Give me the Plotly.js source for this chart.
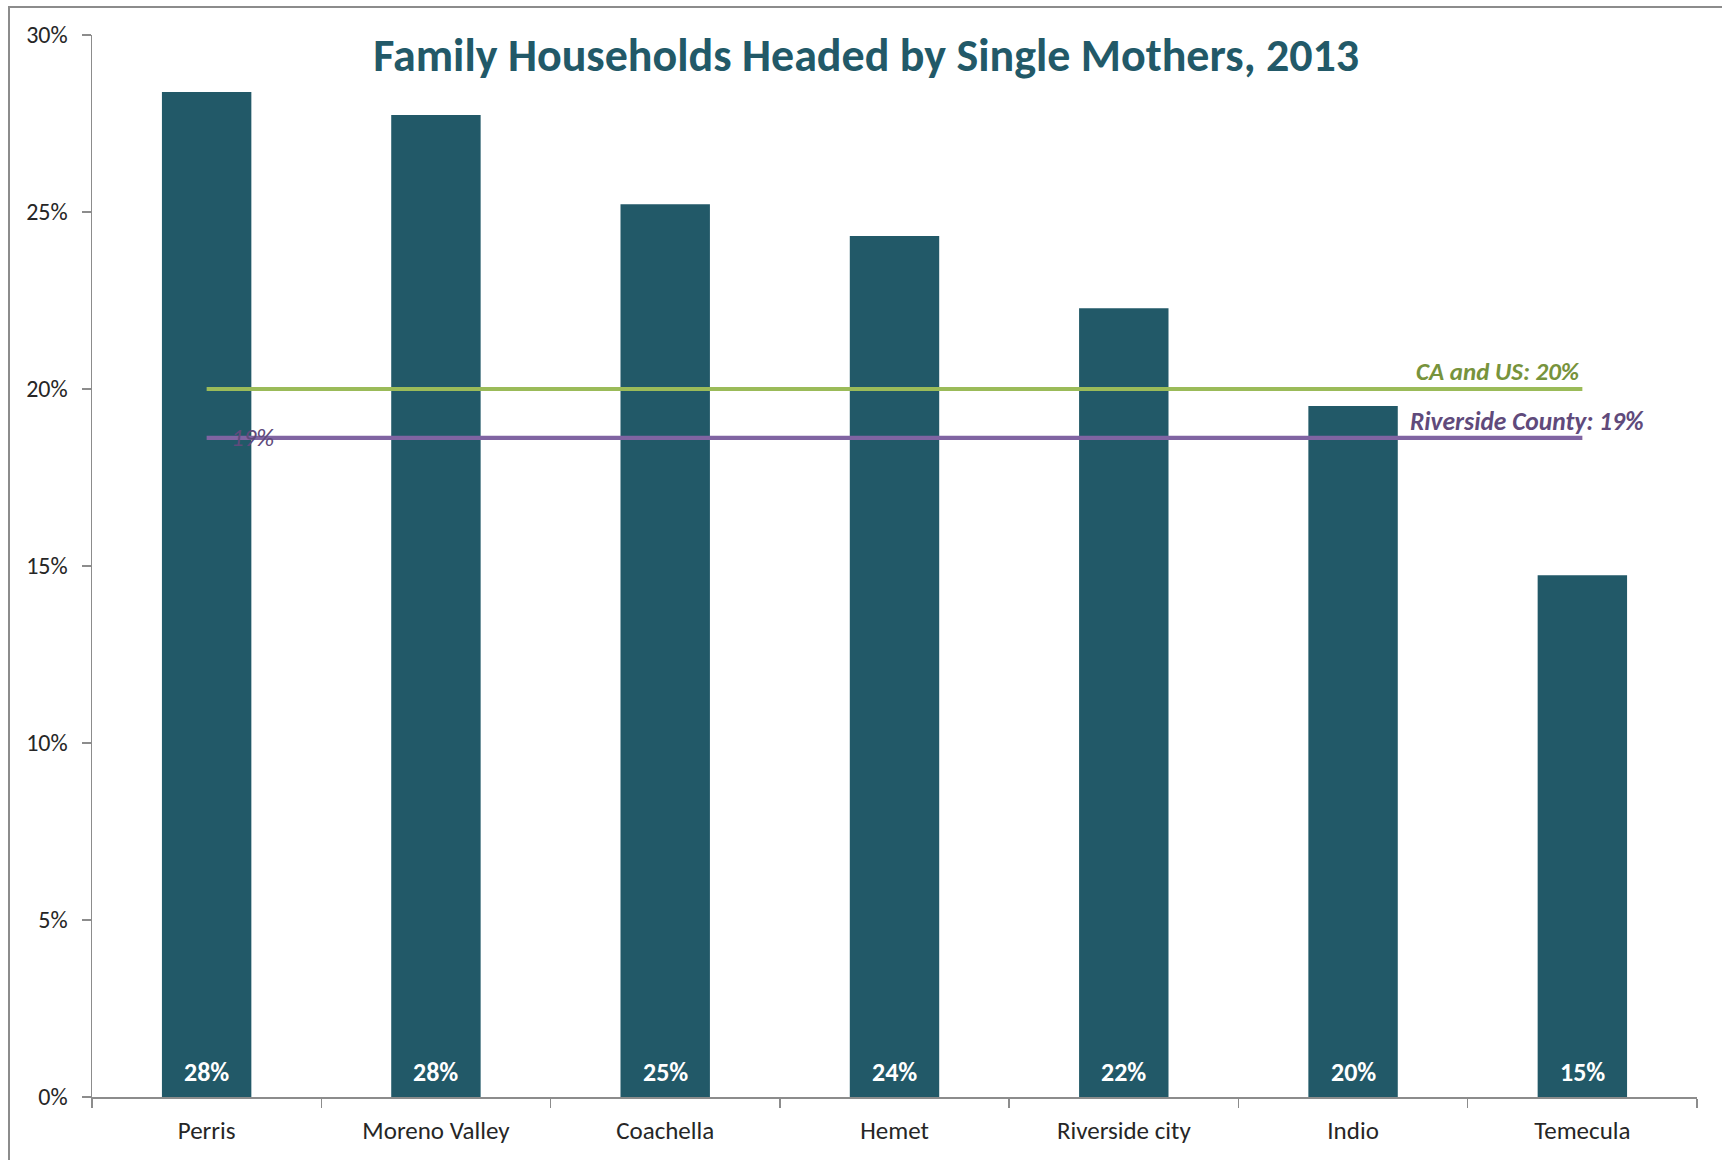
<!DOCTYPE html>
<html>
<head>
<meta charset="utf-8">
<script src="https://cdn.plot.ly/plotly-3.0.1.min.js"></script>
<style>
  html, body { margin: 0; padding: 0; background: #fff; }
  #wrap { position: relative; width: 1722px; height: 1160px; overflow: hidden; }
  #chart { position: absolute; left: 0; top: 0; width: 1722px; height: 1160px; }
  #frame { position: absolute; left: 8px; top: 6px; width: 1730px; height: 1200px; border: 2px solid #8c8c8c; box-sizing: border-box; pointer-events: none; }
</style>
</head>
<body>
<div id="wrap"><div id="chart"></div><div id="frame"></div></div>
<script>
const categories = ["Perris", "Moreno Valley", "Coachella", "Hemet", "Riverside city", "Indio", "Temecula"];
const shares = [28.39, 27.74, 25.22, 24.32, 22.28, 19.52, 14.74];
const caUsValue = 20.0;
const riversideCountyValue = 18.62;
const yTickValues = [0, 5, 10, 15, 20, 25, 30];
const yTickLabels = ["0%", "5%", "10%", "15%", "20%", "25%", "30%"];
const titleText = "Family Households Headed by Single Mothers, 2013";

const FONT = "Carlito, Lato, 'Open Sans', sans-serif";
const BAR = "#225968";
const GREEN = "#9bbb59", GREEN_TXT = "#77933c";
const PURPLE = "#8064a2", PURPLE_TXT = "#604a7b";

const traces = [
  {
    type: "bar",
    x: categories,
    y: shares,
    marker: { color: BAR },
    hoverinfo: "skip"
  },
  {
    type: "scatter",
    mode: "lines",
    x: categories,
    y: categories.map(() => caUsValue),
    line: { color: GREEN, width: 4.2 },
    hoverinfo: "skip"
  },
  {
    type: "scatter",
    mode: "lines",
    x: categories,
    y: categories.map(() => riversideCountyValue),
    line: { color: PURPLE, width: 4.2 },
    hoverinfo: "skip"
  }
];

const last = categories[categories.length - 1];

const barLabels = categories.map((c, i) => ({
  x: c, y: 0, xref: "x", yref: "y",
  text: "<b>" + Math.round(shares[i]) + "%</b>",
  showarrow: false, xanchor: "center", yanchor: "bottom", yshift: 7,
  font: { family: FONT, size: 26, color: "#ffffff" }
}));

const layout = {
  width: 1722,
  height: 1160,
  paper_bgcolor: "#ffffff",
  plot_bgcolor: "#ffffff",
  showlegend: false,
  bargap: 0.61,
  margin: { l: 92, r: 25, t: 35, b: 63 },
  font: { family: FONT, color: "#404040" },
  title: {
    text: "<b>" + titleText + "</b>",
    font: { family: FONT, size: 46, color: BAR },
    x: 0.503, xanchor: "center",
    y: 1 - 55 / 1160, yanchor: "middle",
    xref: "container"
  },
  xaxis: {
    type: "category",
    showline: true,
    linecolor: "#8c8c8c",
    linewidth: 1.5,
    ticks: "outside",
    tickson: "boundaries",
    ticklen: 9,
    tickcolor: "#8c8c8c",
    tickwidth: 1.5,
    showgrid: false,
    zeroline: false,
    tickfont: { family: FONT, size: 25, color: "#262626" },
    ticklabelstandoff: 10,
    range: [-0.5, categories.length - 0.5]
  },
  yaxis: {
    range: [0, 30],
    tickvals: yTickValues,
    ticktext: yTickLabels,
    showline: true,
    linecolor: "#8c8c8c",
    linewidth: 1.5,
    ticks: "outside",
    ticklen: 9,
    tickcolor: "#8c8c8c",
    tickwidth: 1.5,
    showgrid: false,
    zeroline: false,
    tickfont: { family: FONT, size: 24, color: "#262626" },
    ticklabelstandoff: 9
  },
  annotations: barLabels.concat([
    {
      x: last, y: caUsValue, xref: "x", yref: "y",
      text: "<b><i>CA and US: " + Math.round(caUsValue) + "%</i></b>",
      showarrow: false, xanchor: "right", yanchor: "bottom", yshift: 0,
      font: { family: FONT, size: 25, color: GREEN_TXT }
    },
    {
      x: last, y: riversideCountyValue, xref: "x", yref: "y",
      text: "<b><i>Riverside County: " + Math.round(riversideCountyValue) + "%</i></b>",
      showarrow: false, xanchor: "left", yanchor: "bottom", xshift: -174, yshift: -1,
      font: { family: FONT, size: 25.5, color: PURPLE_TXT }
    },
    {
      x: categories[0], y: riversideCountyValue, xref: "x", yref: "y",
      text: "<i>" + Math.round(riversideCountyValue) + "%</i>",
      showarrow: false, xanchor: "center", yanchor: "middle", xshift: 46,
      font: { family: FONT, size: 25, color: PURPLE_TXT }
    }
  ])
};

Plotly.newPlot("chart", traces, layout, { staticPlot: true, displayModeBar: false });
</script>
</body>
</html>
